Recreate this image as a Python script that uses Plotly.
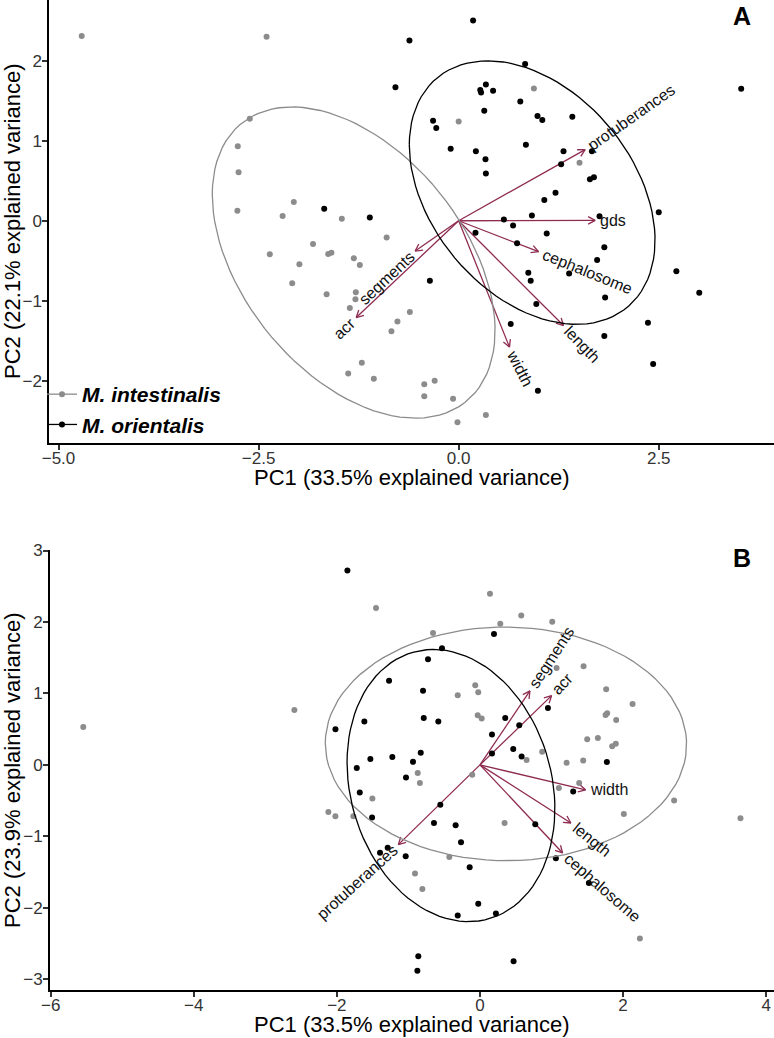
"""PCA biplots (A, B) — M. intestinalis vs M. orientalis."""

import numpy as np
import plotly.graph_objects as go

# ---------------- data: panel A ----------------
A_INT_X = [-4.71, -2.40, -2.61, -2.76, -2.75, -2.765, -2.06, -2.20, -1.46, -1.82, -2.36, -1.63,
           -1.59, -1.99, -1.31, -1.235, -0.90, -2.08, -1.65, -1.285, -1.29, -1.36, -0.765, -0.84,
           -1.21, -1.38, -1.06, 0.94, 0.0, 1.51, -0.61, -0.30, -0.43, -0.43, -0.07, 0.34, -0.015]
A_INT_Y = [2.31, 2.30, 1.275, 0.93, 0.605, 0.125, 0.234, 0.06, 0.025, -0.29, -0.42, -0.415,
           -0.40, -0.545, -0.47, -0.554, -0.21, -0.78, -0.92, -0.895, -0.98, -1.09, -1.26, -1.38,
           -1.775, -1.91, -1.975, 1.655, 1.24, 0.725, -1.14, -2.00, -2.045, -2.195, -2.225, -2.43, -2.52]

A_ORI_X = [-0.79, -1.68, -1.11, 0.18, -0.615, 0.83, 0.34, 0.27, 0.28, 0.43, 3.53, 0.77, 0.32,
           -0.32, -0.28, 0.985, 1.045, 1.42, -0.10, 0.215, 0.84, 1.31, 1.665, 0.335, 0.34, 1.28,
           1.64, 1.69, 1.21, 1.07, 2.50, 1.76, 0.915, 0.565, 0.68, 0.21, 1.10, 0.73, 1.82, 1.73,
           1.38, 2.72, -0.36, 0.87, 0.90, 3.006, 1.83, 0.97, 2.365, 0.65, 1.82, 2.43, 0.99]
A_ORI_Y = [1.67, 0.15, 0.04, 2.505, 2.255, 1.96, 1.705, 1.635, 1.605, 1.625, 1.65, 1.49, 1.375,
           1.25, 1.16, 1.31, 1.26, 1.30, 0.90, 0.87, 0.95, 0.87, 0.87, 0.77, 0.59, 0.705,
           0.52, 0.545, 0.35, 0.26, 0.105, 0.055, 0.067, 0.017, -0.06, -0.15, -0.16, -0.28, -0.33, -0.49,
           -0.66, -0.63, -0.75, -0.65, -0.75, -0.90, -0.96, -1.04, -1.275, -1.29, -1.44, -1.79, -2.125]

A_VARS = ["protuberances", "gds", "cephalosome", "length", "width", "segments", "acr"]
A_VAR_X = [1.58, 1.706, 0.998, 1.31, 0.635, -0.544, -1.28]
A_VAR_Y = [0.89, 0.005, -0.387, -1.31, -1.58, -0.379, -1.21]

A_XTICKS = [-5.0, -2.5, 0.0, 2.5]
A_XTICKTEXT = ["\u22125.0", "\u22122.5", "0.0", "2.5"]
A_YTICKS = [-2, -1, 0, 1, 2]
A_YTICKTEXT = ["\u22122", "\u22121", "0", "1", "2"]

# ---------------- data: panel B ----------------
B_INT_X = [-5.545, -2.594, -1.453, 0.14, 0.577, 0.284, 1.01, -0.656, 1.071, 1.448, -0.066, -0.024,
           -0.311, 1.764, 2.133, -0.032, 0.024, 1.756, 1.778, 1.904, 1.499, 1.648, 1.848, 1.899,
           0.87, 0.652, 1.211, 1.443, -0.87, -0.108, -0.84, 1.103, 1.387, -1.504, -2.119, -2.021,
           -1.77, 0.344, 2.011, 2.714, 3.641, -0.428, -0.908, -0.805, 2.235]
B_INT_Y = [0.532, 0.768, 2.197, 2.394, 2.092, 1.975, 2.003, 1.845, 1.356, 1.380, 1.115, 1.017,
           0.975, 1.059, 0.853, 0.696, 0.648, 0.70, 0.723, 0.63, 0.36, 0.378, 0.262, 0.295,
           0.183, 0.067, 0.029, 0.061, -0.115, -0.138, -0.254, -0.324, -0.254, -0.469, -0.66, -0.718,
           -0.718, -0.813, -0.687, -0.497, -0.748, -1.288, -1.521, -1.735, -2.429]

B_ORI_X = [-1.853, 0.196, -0.531, -0.726, -1.271, -0.796, -1.616, -2.02, 0.95, -0.786, -0.582,
           0.353, 0.549, 0.168, -1.532, -1.225, -0.828, -0.936, -1.034, -1.722, 0.168, 0.465,
           0.582, 1.774, -1.68, -1.508, 1.303, -0.554, -0.643, -0.340, -0.265, 0.773, -1.397,
           -1.29, -1.038, -0.144, 1.061, 1.522, -0.024, -0.311, 0.223, -0.862, -0.875, 0.47]
B_ORI_Y = [2.719, 1.831, 1.631, 1.478, 1.179, 1.039, 0.609, 0.50, 0.797, 0.658, 0.606,
           0.658, 0.556, 0.425, 0.082, 0.109, 0.169, 0.043, -0.176, -0.042, 0.159, 0.221,
           0.117, 0.039, -0.388, -0.737, -0.371, -0.557, -0.813, -0.846, -1.084, -0.832, -1.228,
           -1.16, -1.279, -1.433, -1.307, -1.651, -1.944, -2.108, -2.08, -2.676, -2.88, -2.747]

B_VARS = ["segments", "acr", "width", "length", "cephalosome", "protuberances"]
B_VAR_X = [0.698, 1.001, 1.476, 1.271, 1.155, -1.141]
B_VAR_Y = [1.035, 0.969, -0.348, -0.813, -1.232, -1.116]

B_XTICKS = [-6, -4, -2, 0, 2, 4]
B_XTICKTEXT = ["\u22126", "\u22124", "\u22122", "0", "2", "4"]
B_YTICKS = [-3, -2, -1, 0, 1, 2, 3]
B_YTICKTEXT = ["\u22123", "\u22122", "\u22121", "0", "1", "2", "3"]

GROUPS = ["M. intestinalis", "M. orientalis"]

# ---------------- style ----------------
W, H = 774, 1038
FONT = "Arial, Liberation Sans, sans-serif"
C_INT = "#8c8c8c"
C_ORI = "#000000"
C_ARROW = "#8e2b50"
TICK_COLOR = "#333333"

# panel boxes in pixels (left, right, top, bottom) and data ranges
PANELS = {
    "A": dict(box=(49.3, 774, 0, 442.7), xr=(-5.115, 3.94), yr=(-2.775, 2.76)),
    "B": dict(box=(50, 774, 549.8, 990), xr=(-6.01, 4.11), yr=(-3.15, 3.01)),
}

# label reading angles (degrees, counter-clockwise)
A_ANGLES = {"protuberances": 35, "gds": 0, "cephalosome": -22, "length": -46,
            "width": -63, "segments": 43, "acr": 43}
B_ANGLES = {"segments": 57, "acr": 47, "width": 0, "length": -39,
            "cephalosome": -41, "protuberances": 42}

LABEL_SIZE = 16
LABEL_GAP = 5
ARIAL_EM = {"a": .556, "b": .556, "c": .5, "d": .556, "e": .556, "g": .556, "h": .556,
            "i": .222, "l": .222, "m": .833, "n": .556, "o": .556, "p": .556, "r": .333,
            "s": .5, "t": .278, "u": .556, "w": .722}


def text_width(s, size):
    return sum(ARIAL_EM.get(ch, .556) for ch in s) * size


def px_scale(panel):
    l, r, t, b = PANELS[panel]["box"]
    xr, yr = PANELS[panel]["xr"], PANELS[panel]["yr"]
    return (r - l) / (xr[1] - xr[0]), (b - t) / (yr[1] - yr[0])


def ellipse(xs, ys, prob=0.68, n=100):
    pts = np.column_stack([xs, ys])
    sigma = np.cov(pts, rowvar=False)
    mu = pts.mean(axis=0)
    ed = np.sqrt(-2 * np.log(1 - prob))  # chi-square quantile, df=2
    theta = np.linspace(-np.pi, np.pi, n)
    circle = np.column_stack([np.cos(theta), np.sin(theta)])
    ell = circle @ np.linalg.cholesky(sigma).T * ed + mu
    return ell[:, 0], ell[:, 1]


def arrow_paths(vx, vy, panel, head=8, spread=np.radians(28)):
    sx, sy = px_scale(panel)
    xs, ys = [], []
    for x, y in zip(vx, vy):
        px, py = x * sx, y * sy
        ang = np.arctan2(py, px)
        xs += [0, x, None]
        ys += [0, y, None]
        for s in (spread, -spread):
            hx = px - head * np.cos(ang + s)
            hy = py - head * np.sin(ang + s)
            xs += [hx / sx, x, None]
            ys += [hy / sy, y, None]
    return xs, ys


def add_panel(fig, panel, int_x, int_y, ori_x, ori_y, names, vx, vy, angles, xa, ya):
    ax, ay = arrow_paths(vx, vy, panel)
    fig.add_trace(go.Scatter(x=ax, y=ay, mode="lines", xaxis=xa, yaxis=ya,
                             line=dict(color=C_ARROW, width=1.3), showlegend=False,
                             hoverinfo="skip"))
    for xs, ys, col in ((int_x, int_y, C_INT), (ori_x, ori_y, C_ORI)):
        fig.add_trace(go.Scatter(x=xs, y=ys, mode="markers", xaxis=xa, yaxis=ya,
                                 marker=dict(color=col, size=6), showlegend=False))
    for xs, ys, col in ((int_x, int_y, C_INT), (ori_x, ori_y, C_ORI)):
        ex, ey = ellipse(xs, ys)
        fig.add_trace(go.Scatter(x=ex, y=ey, mode="lines", xaxis=xa, yaxis=ya,
                                 line=dict(color=col, width=1.3), showlegend=False,
                                 hoverinfo="skip"))
    for name, x, y in zip(names, vx, vy):
        a = np.radians(angles[name])
        d = LABEL_GAP + text_width(name, LABEL_SIZE) / 2
        sign = 1 if x >= 0 else -1
        fig.add_annotation(x=x, y=y, xref=xa, yref=ya, text=name, showarrow=False,
                           xanchor="center", yanchor="middle",
                           xshift=sign * d * np.cos(a), yshift=sign * d * np.sin(a),
                           textangle=-angles[name],
                           font=dict(size=LABEL_SIZE, color="#111111", family=FONT))


def axis_common(panel, which, ticks, ticktext):
    l, r, t, b = PANELS[panel]["box"]
    if which == "x":
        dom = [l / W, r / W]
        rng = PANELS[panel]["xr"]
        standoff = -6
    else:
        dom = [1 - b / H, 1 - t / H]
        rng = PANELS[panel]["yr"]
        standoff = -3
    return dict(domain=dom, range=list(rng), tickvals=ticks, ticktext=ticktext,
                showline=True, linecolor="black", linewidth=2, mirror=False,
                ticks="outside", ticklen=5, tickwidth=1.5, tickcolor=TICK_COLOR,
                ticklabelstandoff=standoff,
                showgrid=False, zeroline=False, automargin=False,
                tickfont=dict(size=17, color=TICK_COLOR, family=FONT))


fig = go.Figure()
add_panel(fig, "A", A_INT_X, A_INT_Y, A_ORI_X, A_ORI_Y, A_VARS, A_VAR_X, A_VAR_Y,
          A_ANGLES, "x", "y")
add_panel(fig, "B", B_INT_X, B_INT_Y, B_ORI_X, B_ORI_Y, B_VARS, B_VAR_X, B_VAR_Y,
          B_ANGLES, "x2", "y2")

# legend entries (point + line key, like ggplot)
for name, col in zip(GROUPS, (C_INT, C_ORI)):
    fig.add_trace(go.Scatter(x=[None], y=[None], mode="lines+markers", name=f"<b><i>{name}</i></b>",
                             line=dict(color=col, width=1.3), marker=dict(color=col, size=6)))

xa = axis_common("A", "x", A_XTICKS, A_XTICKTEXT)
ya = axis_common("A", "y", A_YTICKS, A_YTICKTEXT)
xb = axis_common("B", "x", B_XTICKS, B_XTICKTEXT)
yb = axis_common("B", "y", B_YTICKS, B_YTICKTEXT)
xa["anchor"], ya["anchor"] = "y", "x"
xb["anchor"], yb["anchor"] = "y2", "x2"

# axis titles and panel letters
title_font = dict(size=22, color="black", family=FONT)
for txt, yc in (("PC1 (33.5% explained variance)", 477), ("PC1 (33.5% explained variance)", 1024)):
    fig.add_annotation(x=411.7 / W, y=1 - yc / H, xref="paper", yref="paper", text=txt,
                       showarrow=False, xanchor="center", yanchor="middle", font=title_font)
for txt, yc in (("PC2 (22.1% explained variance)", 221), ("PC2 (23.9% explained variance)", 770)):
    fig.add_annotation(x=12 / W, y=1 - yc / H, xref="paper", yref="paper", text=txt,
                       showarrow=False, xanchor="center", yanchor="middle", textangle=-90,
                       font=title_font)
for txt, yc in (("A", 16), ("B", 558)):
    fig.add_annotation(x=742 / W, y=1 - yc / H, xref="paper", yref="paper", text=f"<b>{txt}</b>",
                       showarrow=False, xanchor="center", yanchor="middle",
                       font=dict(size=25, color="black", family=FONT))

fig.update_layout(
    width=W, height=H, autosize=False,
    margin=dict(l=0, r=0, t=0, b=0),
    paper_bgcolor="white", plot_bgcolor="white",
    font=dict(family=FONT, color="black"),
    xaxis=xa, yaxis=ya, xaxis2=xb, yaxis2=yb,
    legend=dict(x=42 / W, y=1 - 374 / H, xanchor="left", yanchor="top",
                bgcolor="rgba(0,0,0,0)", font=dict(size=21, color="black", family=FONT),
                itemwidth=30, tracegroupgap=0),
    showlegend=True,
)

# drop the browser's default page margin so the figure sits at the window origin
fig.write_html("out.html", config={"displayModeBar": False},
               post_script="document.body.style.margin='0px';")
